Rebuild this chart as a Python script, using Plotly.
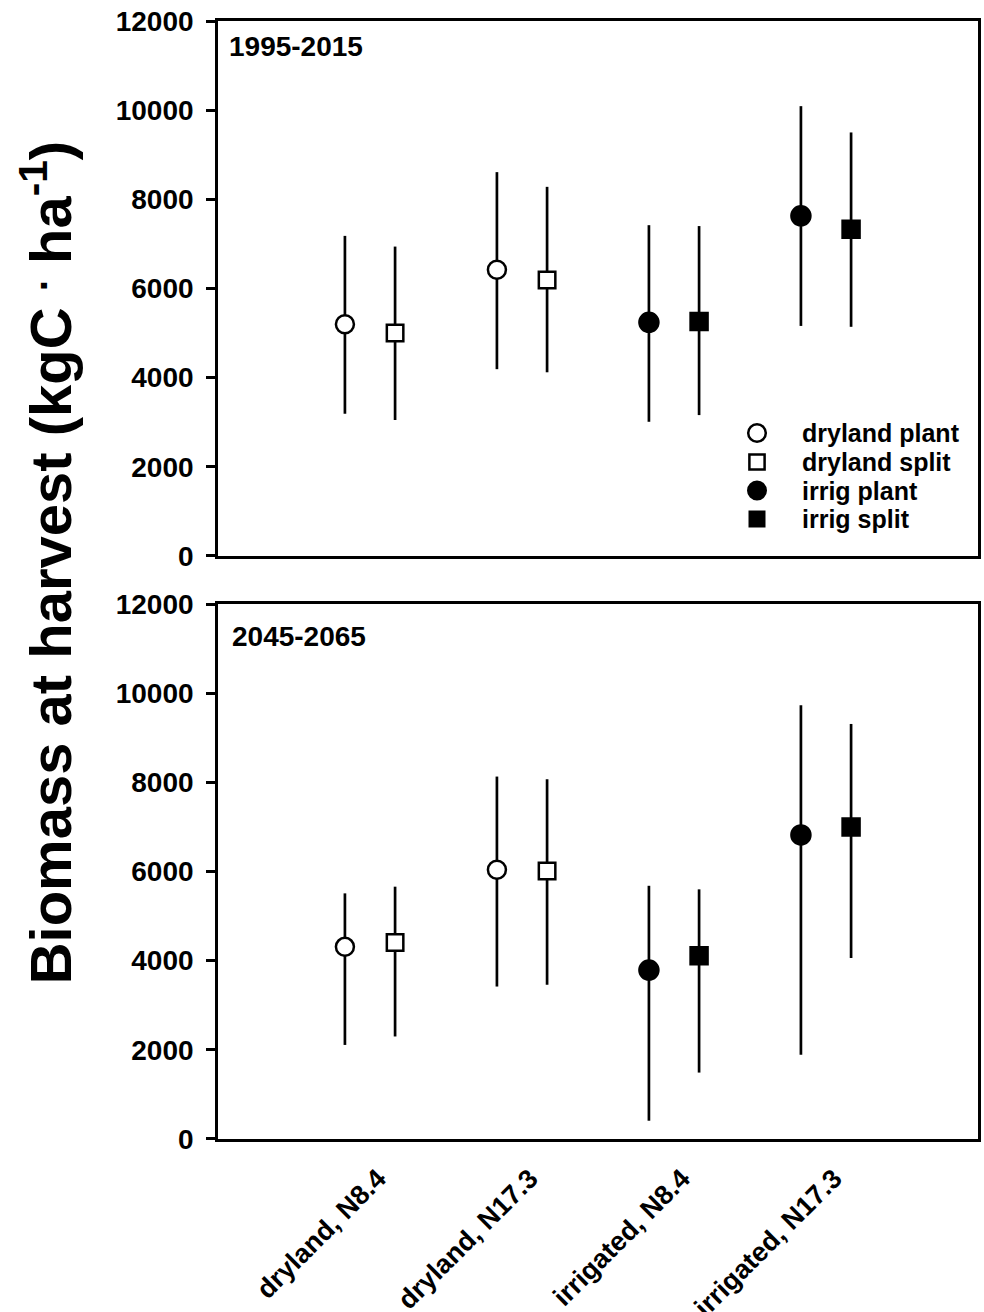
import plotly.graph_objects as go

# ---------------- data ----------------
categories = ["dryland, N8.4", "dryland, N17.3", "irrigated, N8.4", "irrigated, N17.3"]
cat_pos = [1, 2, 3, 4]
series_names = ["dryland plant", "dryland split", "irrig plant", "irrig split"]
panel_labels = ["1995-2015", "2045-2065"]
y_ticks = [0, 2000, 4000, 6000, 8000, 10000, 12000]
y_ticktext = ["0", "2000", "4000", "6000", "8000", "10000", "12000"]

# Panel 1995-2015 (mean, upper end of bar, lower end of bar), per category
p1_dryland_plant_mean = [5200, 6420]
p1_dryland_plant_hi = [7180, 8610]
p1_dryland_plant_lo = [3190, 4190]
p1_dryland_split_mean = [5000, 6190]
p1_dryland_split_hi = [6940, 8280]
p1_dryland_split_lo = [3050, 4120]
p1_irrig_plant_mean = [5240, 7630]
p1_irrig_plant_hi = [7420, 10090]
p1_irrig_plant_lo = [3010, 5160]
p1_irrig_split_mean = [5260, 7330]
p1_irrig_split_hi = [7400, 9500]
p1_irrig_split_lo = [3160, 5140]

# Panel 2045-2065
p2_dryland_plant_mean = [4310, 6040]
p2_dryland_plant_hi = [5510, 8130]
p2_dryland_plant_lo = [2110, 3420]
p2_dryland_split_mean = [4410, 6010]
p2_dryland_split_hi = [5660, 8070]
p2_dryland_split_lo = [2300, 3460]
p2_irrig_plant_mean = [3790, 6820]
p2_irrig_plant_hi = [5680, 9730]
p2_irrig_plant_lo = [410, 1890]
p2_irrig_split_mean = [4110, 7000]
p2_irrig_split_hi = [5600, 9310]
p2_irrig_split_lo = [1490, 4060]

# ---------------- styling ----------------
FONT = "Arial, 'Liberation Sans', sans-serif"
BLACK = "#000000"
OFFSET = 0.165  # within-group dodge (category units)

series_style = {
    "dryland plant": dict(symbol="circle", size=18, color="white", cats=[0, 1], dx=-OFFSET),
    "dryland split": dict(symbol="square", size=16.5, color="white", cats=[0, 1], dx=OFFSET),
    "irrig plant": dict(symbol="circle", size=19, color=BLACK, cats=[2, 3], dx=-OFFSET),
    "irrig split": dict(symbol="square", size=17, color=BLACK, cats=[2, 3], dx=OFFSET),
}

panels = [
    {
        "dryland plant": (p1_dryland_plant_mean, p1_dryland_plant_hi, p1_dryland_plant_lo),
        "dryland split": (p1_dryland_split_mean, p1_dryland_split_hi, p1_dryland_split_lo),
        "irrig plant": (p1_irrig_plant_mean, p1_irrig_plant_hi, p1_irrig_plant_lo),
        "irrig split": (p1_irrig_split_mean, p1_irrig_split_hi, p1_irrig_split_lo),
    },
    {
        "dryland plant": (p2_dryland_plant_mean, p2_dryland_plant_hi, p2_dryland_plant_lo),
        "dryland split": (p2_dryland_split_mean, p2_dryland_split_hi, p2_dryland_split_lo),
        "irrig plant": (p2_irrig_plant_mean, p2_irrig_plant_hi, p2_irrig_plant_lo),
        "irrig split": (p2_irrig_split_mean, p2_irrig_split_hi, p2_irrig_split_lo),
    },
]

fig = go.Figure()
axis_ids = [("x", "y"), ("x2", "y2")]
for pi, panel in enumerate(panels):
    xa, ya = axis_ids[pi]
    for name in series_names:
        st = series_style[name]
        mean, hi, lo = panel[name]
        xs = [cat_pos[c] + st["dx"] for c in st["cats"]]
        fig.add_trace(go.Scatter(
            x=xs, y=mean, mode="markers", name=name,
            xaxis=xa, yaxis=ya, showlegend=False,
            marker=dict(symbol=st["symbol"], size=st["size"], color=st["color"],
                        line=dict(color=BLACK, width=2.5)),
            error_y=dict(type="data", symmetric=False,
                         array=[h - m for h, m in zip(hi, mean)],
                         arrayminus=[m - l for m, l in zip(mean, lo)],
                         color=BLACK, thickness=2.7, width=0),
        ))

yaxis_common = dict(range=[0, 12000], tickvals=y_ticks, ticktext=y_ticktext,
                    ticks="outside", ticklen=9, ticklabelstandoff=7, automargin=False,
                    tickwidth=2.5, tickcolor=BLACK, showline=True, linecolor=BLACK,
                    linewidth=2.7, mirror=True, showgrid=False, zeroline=False,
                    tickfont=dict(family=FONT, size=28, color=BLACK, weight="bold"))
xaxis_common = dict(range=[0, 5], tickvals=cat_pos, ticktext=categories, showline=True,
                    linecolor=BLACK, linewidth=2.7, mirror=True, showgrid=False,
                    zeroline=False, ticks="", automargin=False)

PLOT_TOP, PLOT_BOT = 21, 1139
fig.update_layout(
    width=984, height=1312,
    margin=dict(l=218, r=6, t=PLOT_TOP, b=1312 - PLOT_BOT, autoexpand=False),
    plot_bgcolor="white", paper_bgcolor="white",
    xaxis=dict(domain=[0, 1], anchor="y", showticklabels=False, **xaxis_common),
    yaxis=dict(domain=[0.5215, 1], anchor="x", **yaxis_common),
    xaxis2=dict(domain=[0, 1], anchor="y2", showticklabels=True, tickangle=-45,
                ticklabelstandoff=10, ticklabelshift=8,
                tickfont=dict(family=FONT, size=27, color=BLACK, weight="bold"),
                **xaxis_common),
    yaxis2=dict(domain=[0, 0.4785], anchor="x2", **yaxis_common),
    showlegend=False,
)

# ---- legend (drawn inside the top panel) ----
W = 760.0
H = float(PLOT_BOT - PLOT_TOP)
def px_x(p):
    return (p - 218) / W
def px_y(p):
    return (PLOT_BOT - p) / H

legend_rows_px = [433, 462, 490.5, 519]
legend_symbol_x = px_x(757)
legend_text_x = px_x(800)
legend_shapes = {
    "dryland plant": dict(type="circle", r=8.8, fill="white", lw=2.5),
    "dryland split": dict(type="rect", r=7.6, fill="white", lw=2.5),
    "irrig plant": dict(type="circle", r=10, fill=BLACK, lw=0),
    "irrig split": dict(type="rect", r=8.5, fill=BLACK, lw=0),
}
for name, ry in zip(series_names, legend_rows_px):
    s = legend_shapes[name]
    fig.add_shape(type=s["type"], xref="paper", yref="paper",
                  xsizemode="pixel", ysizemode="pixel",
                  xanchor=legend_symbol_x, yanchor=px_y(ry),
                  x0=-s["r"], x1=s["r"], y0=-s["r"], y1=s["r"],
                  fillcolor=s["fill"], line=dict(color=BLACK, width=s["lw"]))
    fig.add_annotation(text=name, xref="paper", yref="paper",
                       x=legend_text_x, y=px_y(ry), xanchor="left", yanchor="middle",
                       showarrow=False,
                       font=dict(family=FONT, size=25, color=BLACK, weight="bold"))

# panel labels
fig.add_annotation(text=panel_labels[0], xref="x domain", yref="y domain",
                   x=0.012, y=0.985, xanchor="left", yanchor="top", showarrow=False,
                   font=dict(family=FONT, size=28, color=BLACK, weight="bold"))
fig.add_annotation(text=panel_labels[1], xref="x2 domain", yref="y2 domain",
                   x=0.016, y=0.972, xanchor="left", yanchor="top", showarrow=False,
                   font=dict(family=FONT, size=28, color=BLACK, weight="bold"))

# shared y-axis title
fig.add_annotation(text="Biomass at harvest (kgC <sup>.</sup> ha<sup>-1</sup>)",
                   xref="paper", yref="paper", x=-0.226, y=0.516,
                   xanchor="center", yanchor="middle", textangle=-90, showarrow=False,
                   font=dict(family=FONT, size=58, color=BLACK, weight="bold"))

fig.write_html("out.html")
